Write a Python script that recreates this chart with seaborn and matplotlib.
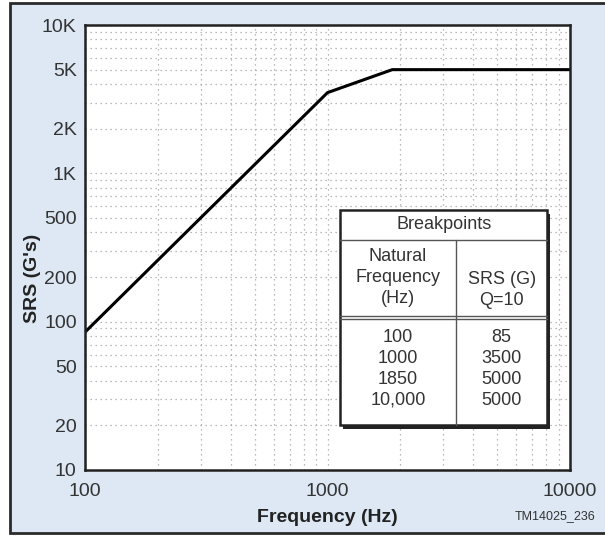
import numpy as np
import pandas as pd
import matplotlib
matplotlib.use('Agg')
import matplotlib.pyplot as plt
from matplotlib.ticker import LogLocator, NullFormatter
from matplotlib.patches import Rectangle
import seaborn as sns

# breakpoints of the SRS curve
freq_hz = [100, 1000, 1850, 10000]
srs_g = [85, 3500, 5000, 5000]

freq_labels = ['100', '1000', '1850', '10,000']
srs_labels = ['85', '3500', '5000', '5000']

y_ticks = [10, 20, 50, 100, 200, 500, 1000, 2000, 5000, 10000]
y_tick_labels = ['10', '20', '50', '100', '200', '500', '1K', '2K', '5K', '10K']
x_ticks = [100, 1000, 10000]
x_tick_labels = ['100', '1000', '10000']

sns.set_style("white")
plt.rcParams['font.family'] = ['Liberation Sans Narrow', 'Liberation Sans', 'DejaVu Sans']

df = pd.DataFrame({'freq': freq_hz, 'srs': srs_g})

fig = plt.figure(figsize=(6.05, 5.37), dpi=100)
fig.patch.set_facecolor('white')
# light blue panel with dark frame
fig.patches.append(Rectangle((10 / 605, 4 / 537), 600 / 605, 530 / 537,
                             transform=fig.transFigure, facecolor='#dde8f4',
                             edgecolor='#2a2a2a', linewidth=2, zorder=-10))

ax = fig.add_axes([85 / 605, 67 / 537, 485 / 605, 445 / 537])
ax.set_facecolor('white')

sns.lineplot(data=df, x='freq', y='srs', ax=ax, color='black', linewidth=2.2,
             estimator=None, sort=False)

ax.set_xscale('log')
ax.set_yscale('log')
ax.set_xlim(100, 10000)
ax.set_ylim(10, 10000)

ax.set_xticks(x_ticks)
ax.set_xticklabels(x_tick_labels)
ax.set_yticks(y_ticks)
ax.set_yticklabels(y_tick_labels)
ax.xaxis.set_minor_locator(LogLocator(base=10, subs=np.arange(2, 10)))
ax.yaxis.set_minor_locator(LogLocator(base=10, subs=np.arange(2, 10)))
ax.xaxis.set_minor_formatter(NullFormatter())
ax.yaxis.set_minor_formatter(NullFormatter())
ax.tick_params(which='both', length=0, labelsize=14, colors='#333333')
ax.tick_params(axis='x', pad=9)
ax.tick_params(axis='y', pad=6)

ax.grid(True, which='both', linestyle=(0, (1, 3)), color='#a5a5a5', linewidth=0.9)
for s in ax.spines.values():
    s.set_color('#222222')
    s.set_linewidth(1.8)

ax.set_xlabel('Frequency (Hz)', fontsize=14, fontweight='bold', color='#222222', labelpad=7)
ax.set_ylabel("SRS (G's)", fontsize=14, fontweight='bold', color='#222222')
ax.yaxis.set_label_coords(-0.09, 0.43)

# breakpoints table drawn in axes coordinates
tx0, tx1 = 0.526, 0.953
ty0, ty1 = 0.101, 0.584
ax.add_patch(Rectangle((tx0 + 0.006, ty0 - 0.008), tx1 - tx0, ty1 - ty0,
                       transform=ax.transAxes, facecolor='#222222', edgecolor='none', zorder=4))
ax.add_patch(Rectangle((tx0, ty0), tx1 - tx0, ty1 - ty0, transform=ax.transAxes,
                       facecolor='white', edgecolor='#222222', linewidth=1.8, zorder=5))
ax.plot([tx0, tx1], [0.517, 0.517], transform=ax.transAxes, color='#555555', lw=1.0, zorder=6)
ax.plot([tx0, tx1], [0.347, 0.347], transform=ax.transAxes, color='#555555', lw=1.0, zorder=6)
ax.plot([tx0, tx1], [0.340, 0.340], transform=ax.transAxes, color='#555555', lw=1.0, zorder=6)
ax.plot([0.765, 0.765], [ty0, 0.517], transform=ax.transAxes, color='#555555', lw=1.0, zorder=6)

tkw = dict(transform=ax.transAxes, ha='center', va='center', fontsize=13,
           color='#333333', zorder=7, linespacing=1.3)
ax.text((tx0 + tx1) / 2, 0.551, 'Breakpoints', **tkw)
ax.text((tx0 + 0.765) / 2, 0.432, 'Natural\nFrequency\n(Hz)', **tkw)
ax.text((0.765 + tx1) / 2, 0.405, 'SRS (G)\nQ=10', **tkw)
ax.text((tx0 + 0.765) / 2, 0.227, '\n'.join(freq_labels), **tkw)
ax.text((0.765 + tx1) / 2, 0.227, '\n'.join(srs_labels), **tkw)

fig.text(595 / 605, 1 - 516 / 537, 'TM14025_236', ha='right', va='center',
         fontsize=9, color='#333333')

fig.savefig('out.png', dpi=100)
